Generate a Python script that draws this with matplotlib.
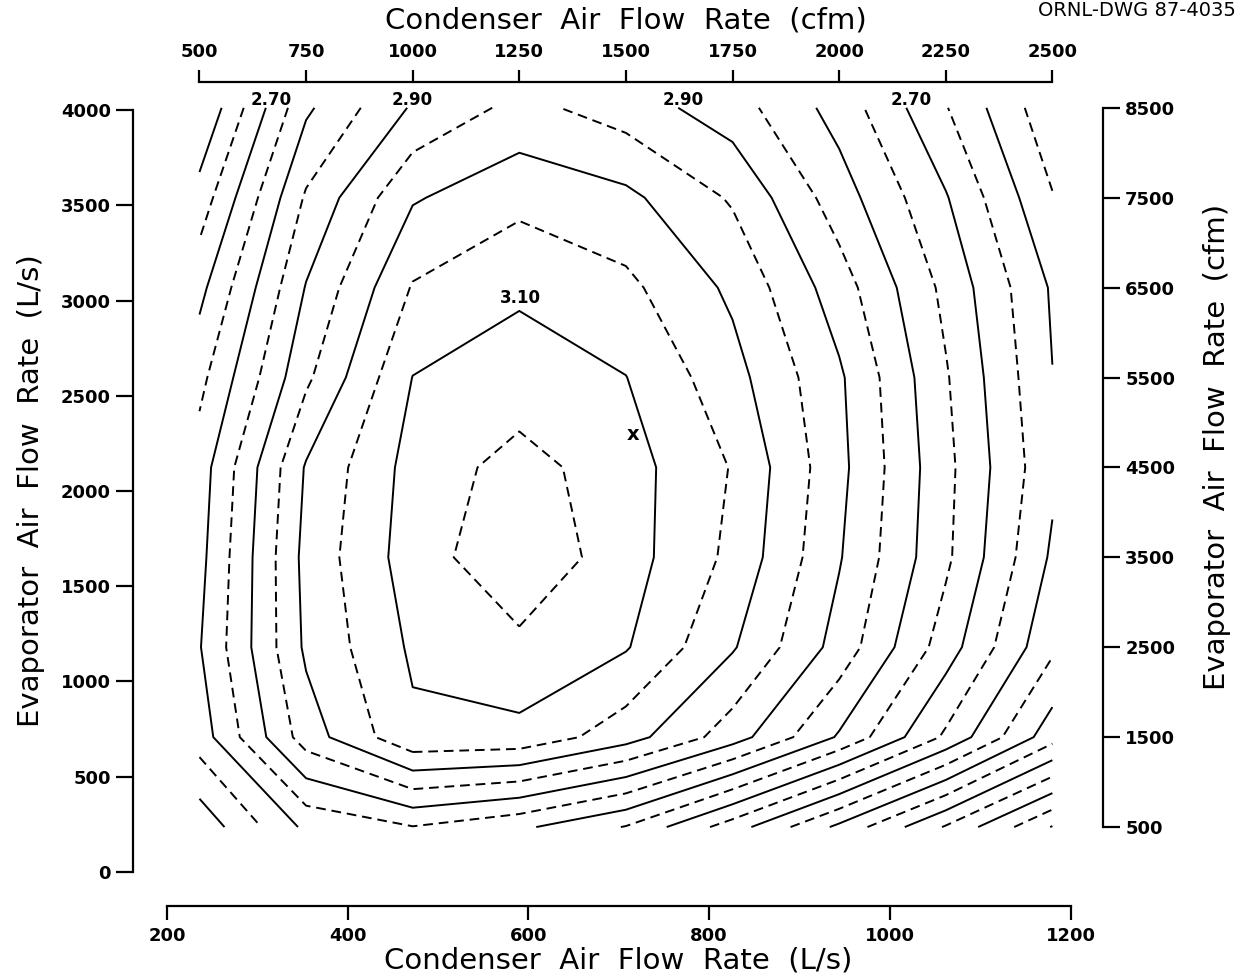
import numpy as np
import matplotlib.pyplot as plt

plt.rcParams['font.family'] = 'DejaVu Sans'

CFM_PER_LPS = 2.11888

# air flow grid (cfm) and COP at each point
cond_cfm = np.array([500, 750, 1000, 1250, 1500, 1750, 2000, 2250, 2500])
evap_cfm = np.array([500, 1500, 2500, 3500, 4500, 5500, 6500, 7500, 8500])

# one row per evaporator flow, 500 cfm first
cop = np.array([
    [2.666, 2.811, 2.848, 2.810, 2.747, 2.624, 2.488, 2.345, 2.197],
    [2.774, 2.975, 3.090, 3.086, 3.022, 2.924, 2.794, 2.641, 2.470],
    [2.797, 3.009, 3.108, 3.138, 3.104, 3.005, 2.881, 2.725, 2.560],
    [2.785, 3.016, 3.125, 3.190, 3.122, 3.038, 2.904, 2.760, 2.592],
    [2.775, 3.005, 3.119, 3.170, 3.121, 3.047, 2.914, 2.764, 2.611],
    [2.735, 2.940, 3.101, 3.120, 3.101, 3.018, 2.908, 2.755, 2.601],
    [2.685, 2.903, 3.054, 3.093, 3.062, 2.990, 2.874, 2.737, 2.594],
    [2.620, 2.857, 2.995, 3.035, 3.012, 2.944, 2.824, 2.704, 2.553],
    [2.550, 2.791, 2.906, 2.965, 2.926, 2.873, 2.780, 2.653, 2.514],
])

levels = [2.20, 2.25, 2.30, 2.35, 2.40, 2.45, 2.50, 2.55, 2.60, 2.65,
          2.70, 2.75, 2.80, 2.85, 2.90, 2.95, 3.00, 3.05, 3.10, 3.15]
top_labels = [(2.70, 'left'), (2.90, 'left'), (2.90, 'right'), (2.70, 'right')]
peak_label = 3.10
design_point = (716, 2294)  # L/s

cond_lps = cond_cfm / CFM_PER_LPS
evap_lps = evap_cfm / CFM_PER_LPS

W, H = 1247, 980
fig = plt.figure(figsize=(W / 100, H / 100), dpi=100)
ax = fig.add_axes([133 / W, 74 / H, 970 / W, 824 / H])
ax.set_xlim(162.4, 1235.9)
ax.set_ylim(-178.5, 4147)

# solid every 0.10, dashed in between
styles = ['solid' if round(lv * 100) % 10 == 0 else (0, (5, 3)) for lv in levels]
cs = ax.contour(cond_lps, evap_lps, cop, levels=levels, colors='black',
                linewidths=1.4, linestyles=styles)

lab_kw = dict(ha='center', va='center', fontsize=12, fontweight='bold')
paths = cs.get_paths()
top = evap_lps[-1]
for level, side in top_labels:
    verts = paths[levels.index(level)].vertices
    at_top = verts[np.isclose(verts[:, 1], top)]
    x = at_top[:, 0].min() if side == 'left' else at_top[:, 0].max()
    ax.annotate(f'{level:.2f}', (x, top), xytext=(5, 8), textcoords='offset pixels', **lab_kw)

verts = paths[levels.index(peak_label)].vertices
peak = verts[np.argmax(verts[:, 1])]
ax.annotate(f'{peak_label:.2f}', tuple(peak), xytext=(1, 13), textcoords='offset pixels', **lab_kw)

ax.text(design_point[0], design_point[1], 'x', fontsize=14, fontweight='bold',
        ha='center', va='center')

lw_axis = 1.6
tick_kw = dict(direction='out', width=lw_axis, labelsize=13)

# left (L/s) and bottom (L/s)
for s in ['top', 'right']:
    ax.spines[s].set_visible(False)
ax.spines['left'].set_bounds(0, 4000)
ax.spines['bottom'].set_bounds(200, 1200)
for s in ['left', 'bottom']:
    ax.spines[s].set_linewidth(lw_axis)
ax.set_xticks(range(200, 1201, 200))
ax.set_yticks(range(0, 4001, 500))
ax.tick_params(axis='x', length=10, pad=5, **tick_kw)
ax.tick_params(axis='y', length=12, pad=4, **tick_kw)

# top (cfm)
ax_top = ax.twiny()
ax_top.set_xlim(np.array(ax.get_xlim()) * CFM_PER_LPS)
for s in ['bottom', 'left', 'right']:
    ax_top.spines[s].set_visible(False)
ax_top.spines['top'].set_bounds(500, 2500)
ax_top.spines['top'].set_linewidth(lw_axis)
ax_top.set_xticks(range(500, 2501, 250))
ax_top.tick_params(axis='x', length=9, pad=6, **tick_kw)

# right (cfm)
ax_right = ax.twinx()
ax_right.set_ylim(np.array(ax.get_ylim()) * CFM_PER_LPS)
for s in ['bottom', 'left', 'top']:
    ax_right.spines[s].set_visible(False)
ax_right.spines['right'].set_bounds(500, 8500)
ax_right.spines['right'].set_linewidth(lw_axis)
ax_right.set_yticks(range(500, 8501, 1000))
ax_right.tick_params(axis='y', length=12, pad=4, **tick_kw)

for a in (ax, ax_top, ax_right):
    for t in a.get_xticklabels() + a.get_yticklabels():
        t.set_fontweight('bold')

title_kw = dict(fontsize=21, ha='center', va='center')
fig.text(626 / W, 1 - 20 / H, 'Condenser  Air  Flow  Rate  (cfm)', **title_kw)
fig.text(618 / W, 1 - 960 / H, 'Condenser  Air  Flow  Rate  (L/s)', **title_kw)
fig.text(31 / W, 1 - 491 / H, 'Evaporator  Air  Flow  Rate  (L/s)', rotation=90, **title_kw)
fig.text(1217 / W, 1 - 447 / H, 'Evaporator  Air  Flow  Rate  (cfm)', rotation=90, **title_kw)
fig.text(1236 / W, 1 - 1 / H, 'ORNL-DWG 87-4035', fontsize=14, ha='right', va='top')

fig.savefig('out.png', dpi=100)
